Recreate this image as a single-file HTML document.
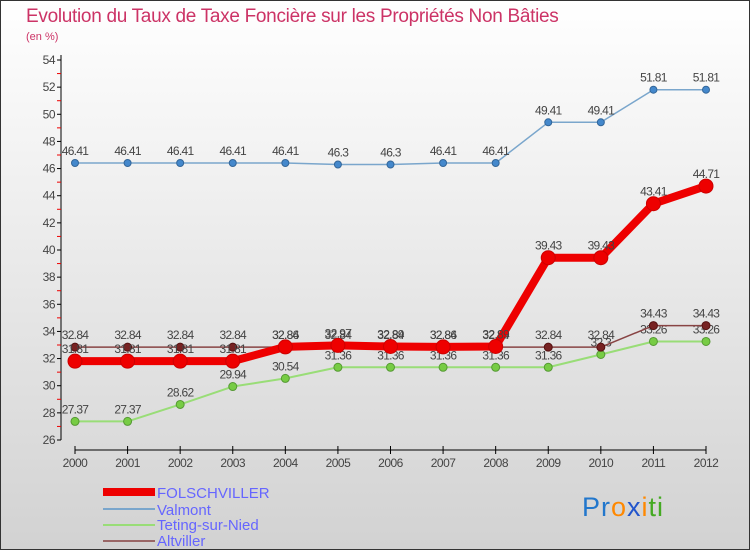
<!DOCTYPE html>
<html><head><meta charset="utf-8"><style>
body{margin:0;width:750px;height:550px;overflow:hidden;font-family:"Liberation Sans",sans-serif}
svg{display:block}
</style></head><body>
<svg id="c" width="750" height="550">
<defs><linearGradient id="bg" x1="0" y1="0" x2="0" y2="1"><stop offset="0" stop-color="#ffffff"/><stop offset="1" stop-color="#d2d2d2"/></linearGradient></defs>
<rect x="0.5" y="0.5" width="749" height="549" fill="url(#bg)" stroke="#333"/>
<text x="26" y="22" font-size="19" fill="#cc3366" letter-spacing="-0.3">Evolution du Taux de Taxe Foncière sur les Propriétés Non Bâties</text>
<text x="26" y="40" font-size="11" fill="#cc3366">(en %)</text>
<g id="axes"></g><g id="series"></g>
<g>
<rect x="103" y="488" width="52" height="8" fill="#e00"/>
<text x="157" y="498" font-size="15" fill="#6666ff">FOLSCHVILLER</text>
<line x1="103" y1="509" x2="155" y2="509" stroke="#7aa6cc" stroke-width="2"/>
<text x="157" y="515" font-size="15" fill="#6666ff">Valmont</text>
<line x1="103" y1="525" x2="155" y2="525" stroke="#99dd77" stroke-width="2"/>
<text x="157" y="530" font-size="15" fill="#6666ff">Teting-sur-Nied</text>
<line x1="103" y1="541" x2="155" y2="541" stroke="#996666" stroke-width="2"/>
<text x="157" y="546" font-size="15" fill="#6666ff">Altviller</text>
</g>
<text x="582" y="516" font-size="27" letter-spacing="1"><tspan fill="#2277cc">Pr</tspan><tspan fill="#ff8800">o</tspan><tspan fill="#2255cc">x</tspan><tspan fill="#ff8800">i</tspan><tspan fill="#44aa22">ti</tspan></text>
</svg>
<script>
const years=[2000,2001,2002,2003,2004,2005,2006,2007,2008,2009,2010,2011,2012];
const folschviller=[31.81,31.81,31.81,31.81,32.86,32.97,32.89,32.86,32.89,39.43,39.43,43.41,44.71];
const valmont=[46.41,46.41,46.41,46.41,46.41,46.3,46.3,46.41,46.41,49.41,49.41,51.81,51.81];
const teting=[27.37,27.37,28.62,29.94,30.54,31.36,31.36,31.36,31.36,31.36,32.3,33.26,33.26];
const altviller=[32.84,32.84,32.84,32.84,32.84,32.84,32.84,32.84,32.84,32.84,32.84,34.43,34.43];
const yTicks=[26,28,30,32,34,36,38,40,42,44,46,48,50,52,54];
const NS="http://www.w3.org/2000/svg";
const xS=i=>75+i*(706-75)/12;
const yS=v=>60+(54-v)*(380/28);
function mk(p,t,a){const e=document.createElementNS(NS,t);for(const k in a)e.setAttribute(k,a[k]);p.appendChild(e);return e;}
const ax=document.getElementById('axes');
let l=mk(ax,'line',{x1:61,y1:55,x2:61,y2:440,stroke:'#000'});


yTicks.forEach(v=>{const y=yS(v);
 mk(ax,'line',{x1:57,y1:y,x2:61,y2:y,stroke:'#000'});
 if(v<54){mk(ax,'line',{x1:57,y1:yS(v+1),x2:61,y2:yS(v+1),stroke:'#e00'});}
 const t=mk(ax,'text',{x:55,y:y+4,'font-size':12,fill:'#444','text-anchor':'end','letter-spacing':'-0.5'});t.textContent=v;
 
 
});
l=mk(ax,'line',{x1:75,y1:450,x2:706,y2:450,stroke:'#000'});


years.forEach((yr,i)=>{const x=xS(i);
 mk(ax,'line',{x1:x,y1:446,x2:x,y2:454,stroke:'#000'});
 const t=mk(ax,'text',{x:x,y:467,'font-size':12,fill:'#444','text-anchor':'middle','letter-spacing':'-0.5'});t.textContent=yr;
 
 
});
const sg=document.getElementById('series');
function draw(name,vals,color,w,r,dot,dotStroke){
 const g=mk(sg,'g',{});
 
 
 mk(g,'polyline',{points:vals.map((v,i)=>xS(i)+','+yS(v)).join(' '),fill:'none',stroke:color,'stroke-width':w,'stroke-linejoin':'round'});
 vals.forEach((v,i)=>{const c=mk(g,'circle',{cx:xS(i),cy:yS(v),r:r,fill:dot,stroke:dotStroke,'stroke-width':1});
  
  
  const t=mk(g,'text',{x:xS(i),y:yS(v)-8,'font-size':12,fill:'#444','text-anchor':'middle','letter-spacing':'-0.7'});t.textContent=v;
  
  
 });
}
draw('teting',teting,'#99dd77',2,4,'#77cc44','#559933');
draw('valmont',valmont,'#7aa6cc',1.5,3.5,'#4488cc','#336699');
draw('altviller',altviller,'#884444',1.5,4,'#772222','#551111');
draw('folschviller',folschviller,'#ee0000',8,7,'#ee0000','#cc0000');
</script>
</body></html>
